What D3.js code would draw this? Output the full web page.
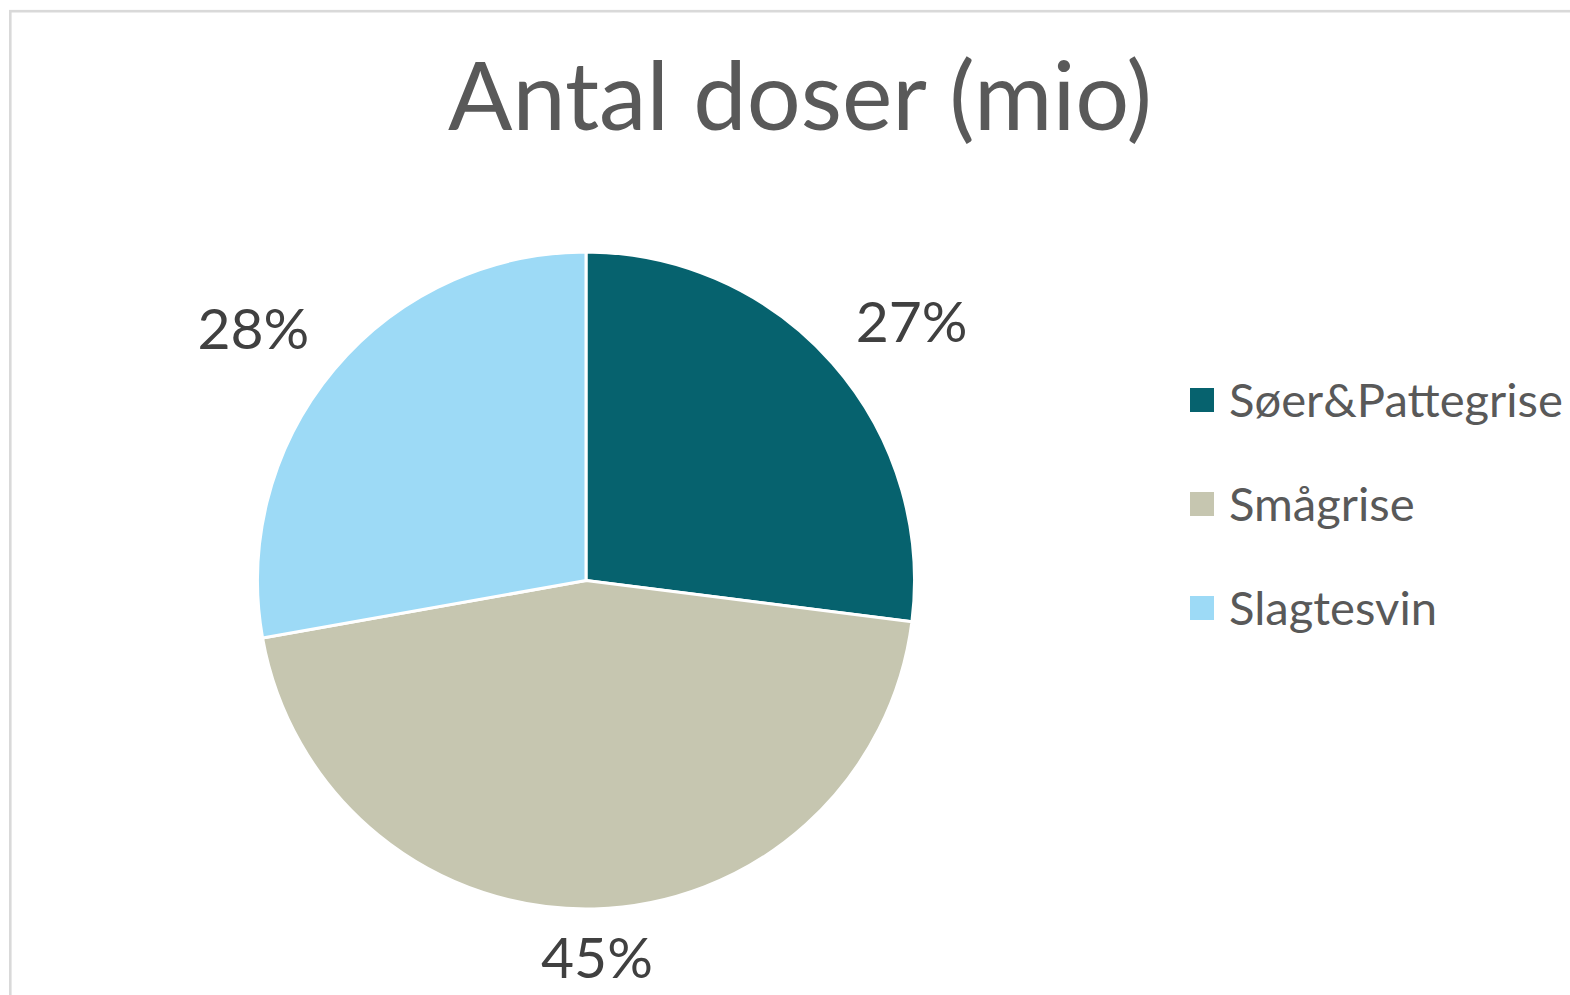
<!DOCTYPE html>
<html>
<head>
<meta charset="utf-8">
<script src="https://cdn.jsdelivr.net/npm/d3@7"></script>
<style>
  body { margin: 0; background: #fff; }
  svg { display: block; font-family: Lato, "Open Sans", sans-serif; }
</style>
</head>
<body>
<div id="chart"></div>
<script>
// Chart data (shares, in %)
var categories = ["Søer&Pattegrise", "Smågrise", "Slagtesvin"];
var shares = [27.0, 45.2, 27.8];
var colors = ["#06626e", "#c6c6b0", "#9ddaf6"];
var title = "Antal doser (mio)";

var svgWidth = 1570;
var svgHeight = 995;

var svg = d3.select("#chart")
  .append("svg")
  .attr("width", svgWidth)
  .attr("height", svgHeight);

// chart area border (runs off the right and bottom edge)
svg.append("rect")
  .attr("x", 10.3)
  .attr("y", 11.2)
  .attr("width", svgWidth + 40)
  .attr("height", svgHeight + 40)
  .attr("fill", "#fff")
  .attr("stroke", "#d9d9d9")
  .attr("stroke-width", 2.6);

// fit a text element to a target width by scaling its font size
function fitWidth(sel, target) {
  var w = sel.node().getComputedTextLength();
  var fs = parseFloat(sel.style("font-size"));
  sel.style("font-size", (fs * target / w) + "px");
}

// Title
var titleText = svg.append("text")
  .attr("x", 800)
  .attr("y", 130)
  .attr("text-anchor", "middle")
  .style("font-size", "86px")
  .style("fill", "#595959")
  .text(title);
fitWidth(titleText, 704);

// Pie
var cx = 586, cy = 580.5, radius = 328.5;
var total = d3.sum(shares);
var colorScale = d3.scaleOrdinal().domain(categories).range(colors);

var pie = d3.pie().sort(null).value(function(d) { return d.value; });
var arcs = pie(categories.map(function(c, i) { return {name: c, value: shares[i]}; }));
var arc = d3.arc().innerRadius(0).outerRadius(radius);

var pieGroup = svg.append("g")
  .attr("transform", "translate(" + cx + "," + cy + ")");

pieGroup.selectAll("path")
  .data(arcs)
  .enter()
  .append("path")
  .attr("d", arc)
  .attr("fill", function(d) { return colorScale(d.data.name); })
  .attr("stroke", "#fff")
  .attr("stroke-width", 3)
  .attr("stroke-linejoin", "round");

// Percent labels outside the slices
var labelRx = 434, labelRy = 383;
pieGroup.selectAll("text.pct")
  .data(arcs)
  .enter()
  .append("text")
  .attr("class", "pct")
  .attr("text-anchor", "middle")
  .attr("dy", "0.26em")
  .attr("x", function(d) {
    var a = (d.startAngle + d.endAngle) / 2;
    return Math.sin(a) * labelRx;
  })
  .attr("y", function(d) {
    var a = (d.startAngle + d.endAngle) / 2;
    return -Math.cos(a) * labelRy;
  })
  .style("font-size", "57px")
  .style("fill", "#404040")
  .text(function(d) { return Math.round(d.data.value / total * 100) + "%"; });

// Legend
var legendY = d3.scalePoint().domain(categories).range([400, 608]);

var legend = svg.append("g")
  .selectAll("g")
  .data(categories)
  .enter()
  .append("g")
  .attr("transform", function(d) { return "translate(1190," + legendY(d) + ")"; });

legend.append("rect")
  .attr("x", 0)
  .attr("y", -12)
  .attr("width", 24)
  .attr("height", 24)
  .attr("fill", function(d) { return colorScale(d); });

var legendText = legend.append("text")
  .attr("x", 39)
  .attr("dy", "0.36em")
  .style("font-size", "44px")
  .style("fill", "#595959")
  .text(function(d) { return d; });

// match the first entry's width, then use that size for all entries
var first = legendText.filter(function(d, i) { return i === 0; });
fitWidth(first, 334);
legendText.style("font-size", first.style("font-size"));
</script>
</body>
</html>
